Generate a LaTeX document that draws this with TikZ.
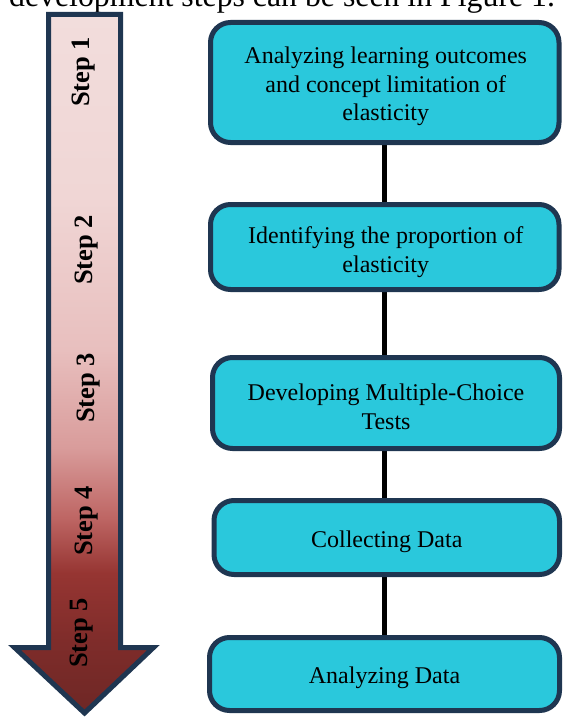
\documentclass[tikz,border=0pt]{standalone}
\usepackage{fontspec}
\setmainfont{Liberation Serif}
\usetikzlibrary{backgrounds}
\definecolor{navy}{RGB}{31,54,81}
\definecolor{cyanbox}{RGB}{42,200,220}
\definecolor{sA}{HTML}{6E2725}
\definecolor{sB}{HTML}{7E2C2A}
\definecolor{sC}{HTML}{963532}
\definecolor{sD}{HTML}{BE6664}
\definecolor{sE}{HTML}{D99C9B}
\definecolor{sF}{HTML}{E8BFBE}
\definecolor{sG}{HTML}{F0D6D5}
\definecolor{sH}{HTML}{F2DDDC}
\pgfdeclareverticalshading{arrowshade}{100bp}{color(0bp)=(sA); color(25bp)=(sA); color(30bp)=(sB); color(35bp)=(sC); color(39bp)=(sD); color(44bp)=(sE); color(51bp)=(sF); color(62bp)=(sG); color(75bp)=(sH); color(100bp)=(sH)}
\begin{document}
\begin{tikzpicture}[x=1pt,y=-1pt,
  stepbox/.style={draw=navy, fill=cyanbox, line width=5pt, rounded corners=20pt, inner sep=0pt},
  boxtext/.style={align=center, font=\fontsize{24}{28.5}\selectfont, inner sep=0pt},
  conn/.style={line width=5pt, black},
  steplabel/.style={rotate=90, font=\bfseries\fontsize{26.5}{30}\selectfont, inner sep=0pt}]
\useasboundingbox (0,0) rectangle (563,717);
% caption text (cut at top, as in the reference)
\node[anchor=base west, inner sep=0pt, font=\fontsize{31.8}{38}\selectfont] (caption) at (9,7) {development steps can be seen in Figure 1.};
% arrow
\path[draw=navy, line width=5pt, shading=arrowshade]
  (48.5,14.5) -- (120.5,14.5) -- (120.5,647.5) -- (153.5,647.5) -- (84.5,713)
  -- (14.5,647.5) -- (48.5,647.5) -- cycle;
\node[steplabel] (s1) at (83.5,72) {Step 1};
\node[steplabel] (s2) at (87,250) {Step 2};
\node[steplabel] (s3) at (89,388) {Step 3};
\node[steplabel] (s4) at (87,521) {Step 4};
\node[steplabel] (s5) at (82,633) {Step 5};
% boxes
\node[stepbox, minimum width=348.5pt, minimum height=120pt] (b1) at (384.75,82.5) {};
\node[stepbox, minimum width=348.5pt, minimum height=85pt] (b2) at (384.75,247) {};
\node[stepbox, minimum width=347pt, minimum height=91pt] (b3) at (386,403) {};
\node[stepbox, minimum width=345.5pt, minimum height=74pt] (b4) at (386.75,537.5) {};
\node[stepbox, minimum width=350pt, minimum height=73pt] (b5) at (384.5,674) {};
\node[boxtext] (t1) at ([xshift=1pt,yshift=-4pt]b1.center) {Analyzing learning outcomes\\and concept limitation of\\elasticity};
\node[boxtext] (t2) at ([xshift=1pt,yshift=-5pt]b2.center) {Identifying the proportion of\\elasticity};
\node[boxtext] (t3) at ([yshift=-4pt]b3.center) {Developing Multiple-Choice\\Tests};
\node[boxtext] (t4) at ([yshift=-4pt]b4.center) {Collecting Data};
\node[boxtext] (t5) at ([yshift=-4pt]b5.center) {Analyzing Data};
\coordinate (cx) at (384,0);
\begin{scope}[on background layer]
\draw[conn] (b1.south -| cx) -- (b2.north -| cx);
\draw[conn] (b2.south -| cx) -- (b3.north -| cx);
\draw[conn] (b3.south -| cx) -- (b4.north -| cx);
\draw[conn] (b4.south -| cx) -- (b5.north -| cx);
\end{scope}
\end{tikzpicture}
\end{document}
